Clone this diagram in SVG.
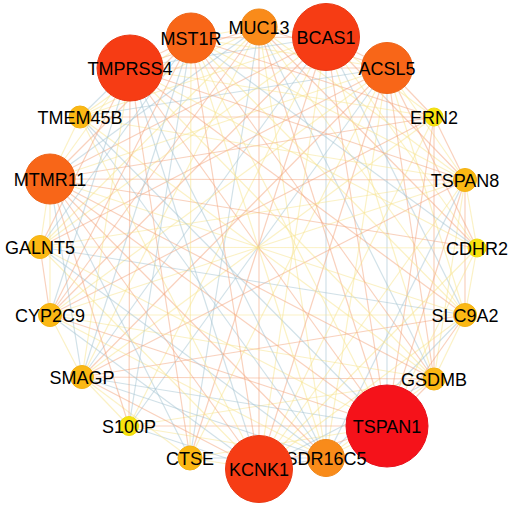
<svg xmlns="http://www.w3.org/2000/svg" width="510" height="506" viewBox="0 0 510 506">
<style>
.e line{stroke-width:1.2;fill:none}
.y{stroke:#f8e48c;stroke-opacity:0.5}
.o{stroke:#f4a47c;stroke-opacity:0.5}
.b{stroke:#a3c3d2;stroke-opacity:0.5}
.n text{font-family:"Liberation Sans",Arial,sans-serif;font-size:18px;fill:#000;text-anchor:middle}
.c1{fill:#f5121a;stroke:#e8101a}
.c2{fill:#f63c14;stroke:#ea3a14}
.c3{fill:#f86618;stroke:#ee6418}
.c4{fill:#f98b1a;stroke:#f0881a}
.c5{fill:#fbb814;stroke:#f3b214}
.c6{fill:#f7e20e;stroke:#efdb0e}
</style>
<rect width="510" height="506" fill="#fff"/>
<g id="edges" class="e">
<line class="y" x1="259" y1="27" x2="326" y2="37"/>
<line class="o" x1="259" y1="27" x2="387" y2="68"/>
<line class="y" x1="259" y1="27" x2="465" y2="180"/>
<line class="o" x1="259" y1="27" x2="477" y2="248"/>
<line class="y" x1="259" y1="27" x2="465" y2="315"/>
<line class="b" x1="259" y1="27" x2="434" y2="379"/>
<line class="o" x1="259" y1="27" x2="387" y2="426"/>
<line class="y" x1="259" y1="27" x2="326" y2="458"/>
<line class="o" x1="259" y1="27" x2="259" y2="469"/>
<line class="b" x1="259" y1="27" x2="190" y2="458"/>
<line class="y" x1="259" y1="27" x2="82" y2="377"/>
<line class="o" x1="259" y1="27" x2="50" y2="315"/>
<line class="y" x1="259" y1="27" x2="40" y2="247"/>
<line class="b" x1="259" y1="27" x2="50" y2="179"/>
<line class="y" x1="259" y1="27" x2="80" y2="117"/>
<line class="o" x1="259" y1="27" x2="130" y2="68"/>
<line class="y" x1="259" y1="27" x2="191" y2="38"/>
<line class="o" x1="326" y1="37" x2="387" y2="68"/>
<line class="y" x1="326" y1="37" x2="434" y2="117"/>
<line class="o" x1="326" y1="37" x2="465" y2="180"/>
<line class="y" x1="326" y1="37" x2="477" y2="248"/>
<line class="b" x1="326" y1="37" x2="465" y2="315"/>
<line class="y" x1="326" y1="37" x2="434" y2="379"/>
<line class="o" x1="326" y1="37" x2="387" y2="426"/>
<line class="b" x1="326" y1="37" x2="326" y2="458"/>
<line class="y" x1="326" y1="37" x2="259" y2="469"/>
<line class="o" x1="326" y1="37" x2="190" y2="458"/>
<line class="y" x1="326" y1="37" x2="129" y2="426"/>
<line class="b" x1="326" y1="37" x2="82" y2="377"/>
<line class="o" x1="326" y1="37" x2="50" y2="315"/>
<line class="y" x1="326" y1="37" x2="40" y2="247"/>
<line class="o" x1="326" y1="37" x2="50" y2="179"/>
<line class="y" x1="326" y1="37" x2="80" y2="117"/>
<line class="b" x1="326" y1="37" x2="130" y2="68"/>
<line class="o" x1="326" y1="37" x2="191" y2="38"/>
<line class="o" x1="387" y1="68" x2="434" y2="117"/>
<line class="y" x1="387" y1="68" x2="465" y2="180"/>
<line class="o" x1="387" y1="68" x2="477" y2="248"/>
<line class="y" x1="387" y1="68" x2="465" y2="315"/>
<line class="o" x1="387" y1="68" x2="434" y2="379"/>
<line class="b" x1="387" y1="68" x2="387" y2="426"/>
<line class="y" x1="387" y1="68" x2="326" y2="458"/>
<line class="o" x1="387" y1="68" x2="259" y2="469"/>
<line class="y" x1="387" y1="68" x2="190" y2="458"/>
<line class="b" x1="387" y1="68" x2="129" y2="426"/>
<line class="o" x1="387" y1="68" x2="82" y2="377"/>
<line class="y" x1="387" y1="68" x2="50" y2="315"/>
<line class="o" x1="387" y1="68" x2="40" y2="247"/>
<line class="y" x1="387" y1="68" x2="50" y2="179"/>
<line class="b" x1="387" y1="68" x2="80" y2="117"/>
<line class="o" x1="387" y1="68" x2="130" y2="68"/>
<line class="y" x1="387" y1="68" x2="191" y2="38"/>
<line class="o" x1="434" y1="117" x2="465" y2="180"/>
<line class="o" x1="434" y1="117" x2="434" y2="379"/>
<line class="o" x1="434" y1="117" x2="387" y2="426"/>
<line class="y" x1="434" y1="117" x2="259" y2="469"/>
<line class="y" x1="434" y1="117" x2="82" y2="377"/>
<line class="o" x1="434" y1="117" x2="50" y2="315"/>
<line class="o" x1="434" y1="117" x2="50" y2="179"/>
<line class="o" x1="434" y1="117" x2="80" y2="117"/>
<line class="y" x1="434" y1="117" x2="130" y2="68"/>
<line class="o" x1="434" y1="117" x2="191" y2="38"/>
<line class="y" x1="465" y1="180" x2="477" y2="248"/>
<line class="o" x1="465" y1="180" x2="465" y2="315"/>
<line class="y" x1="465" y1="180" x2="434" y2="379"/>
<line class="o" x1="465" y1="180" x2="387" y2="426"/>
<line class="b" x1="465" y1="180" x2="326" y2="458"/>
<line class="y" x1="465" y1="180" x2="259" y2="469"/>
<line class="o" x1="465" y1="180" x2="82" y2="377"/>
<line class="y" x1="465" y1="180" x2="50" y2="315"/>
<line class="y" x1="465" y1="180" x2="40" y2="247"/>
<line class="o" x1="465" y1="180" x2="50" y2="179"/>
<line class="y" x1="465" y1="180" x2="80" y2="117"/>
<line class="o" x1="465" y1="180" x2="130" y2="68"/>
<line class="y" x1="465" y1="180" x2="191" y2="38"/>
<line class="y" x1="477" y1="248" x2="465" y2="315"/>
<line class="y" x1="477" y1="248" x2="387" y2="426"/>
<line class="y" x1="477" y1="248" x2="259" y2="469"/>
<line class="y" x1="477" y1="248" x2="40" y2="247"/>
<line class="o" x1="477" y1="248" x2="50" y2="179"/>
<line class="y" x1="477" y1="248" x2="130" y2="68"/>
<line class="b" x1="477" y1="248" x2="191" y2="38"/>
<line class="y" x1="465" y1="315" x2="434" y2="379"/>
<line class="o" x1="465" y1="315" x2="387" y2="426"/>
<line class="b" x1="465" y1="315" x2="326" y2="458"/>
<line class="y" x1="465" y1="315" x2="259" y2="469"/>
<line class="o" x1="465" y1="315" x2="82" y2="377"/>
<line class="y" x1="465" y1="315" x2="50" y2="315"/>
<line class="b" x1="465" y1="315" x2="40" y2="247"/>
<line class="y" x1="465" y1="315" x2="50" y2="179"/>
<line class="o" x1="465" y1="315" x2="130" y2="68"/>
<line class="y" x1="465" y1="315" x2="191" y2="38"/>
<line class="o" x1="434" y1="379" x2="387" y2="426"/>
<line class="y" x1="434" y1="379" x2="326" y2="458"/>
<line class="b" x1="434" y1="379" x2="259" y2="469"/>
<line class="y" x1="434" y1="379" x2="129" y2="426"/>
<line class="o" x1="434" y1="379" x2="82" y2="377"/>
<line class="y" x1="434" y1="379" x2="50" y2="315"/>
<line class="o" x1="434" y1="379" x2="50" y2="179"/>
<line class="y" x1="434" y1="379" x2="80" y2="117"/>
<line class="y" x1="434" y1="379" x2="130" y2="68"/>
<line class="o" x1="434" y1="379" x2="191" y2="38"/>
<line class="y" x1="387" y1="426" x2="326" y2="458"/>
<line class="o" x1="387" y1="426" x2="259" y2="469"/>
<line class="y" x1="387" y1="426" x2="190" y2="458"/>
<line class="o" x1="387" y1="426" x2="129" y2="426"/>
<line class="b" x1="387" y1="426" x2="82" y2="377"/>
<line class="o" x1="387" y1="426" x2="50" y2="315"/>
<line class="y" x1="387" y1="426" x2="40" y2="247"/>
<line class="o" x1="387" y1="426" x2="50" y2="179"/>
<line class="b" x1="387" y1="426" x2="80" y2="117"/>
<line class="o" x1="387" y1="426" x2="130" y2="68"/>
<line class="y" x1="387" y1="426" x2="191" y2="38"/>
<line class="b" x1="326" y1="458" x2="259" y2="469"/>
<line class="b" x1="326" y1="458" x2="190" y2="458"/>
<line class="y" x1="326" y1="458" x2="129" y2="426"/>
<line class="b" x1="326" y1="458" x2="82" y2="377"/>
<line class="y" x1="326" y1="458" x2="50" y2="315"/>
<line class="b" x1="326" y1="458" x2="40" y2="247"/>
<line class="o" x1="326" y1="458" x2="50" y2="179"/>
<line class="b" x1="326" y1="458" x2="80" y2="117"/>
<line class="b" x1="326" y1="458" x2="130" y2="68"/>
<line class="y" x1="326" y1="458" x2="191" y2="38"/>
<line class="y" x1="259" y1="469" x2="190" y2="458"/>
<line class="b" x1="259" y1="469" x2="129" y2="426"/>
<line class="o" x1="259" y1="469" x2="82" y2="377"/>
<line class="b" x1="259" y1="469" x2="50" y2="315"/>
<line class="y" x1="259" y1="469" x2="40" y2="247"/>
<line class="o" x1="259" y1="469" x2="50" y2="179"/>
<line class="y" x1="259" y1="469" x2="80" y2="117"/>
<line class="b" x1="259" y1="469" x2="130" y2="68"/>
<line class="o" x1="259" y1="469" x2="191" y2="38"/>
<line class="y" x1="190" y1="458" x2="82" y2="377"/>
<line class="b" x1="190" y1="458" x2="50" y2="179"/>
<line class="o" x1="190" y1="458" x2="130" y2="68"/>
<line class="y" x1="190" y1="458" x2="191" y2="38"/>
<line class="y" x1="129" y1="426" x2="82" y2="377"/>
<line class="o" x1="129" y1="426" x2="50" y2="179"/>
<line class="o" x1="129" y1="426" x2="130" y2="68"/>
<line class="b" x1="129" y1="426" x2="191" y2="38"/>
<line class="y" x1="82" y1="377" x2="50" y2="315"/>
<line class="b" x1="82" y1="377" x2="50" y2="179"/>
<line class="y" x1="82" y1="377" x2="130" y2="68"/>
<line class="b" x1="82" y1="377" x2="191" y2="38"/>
<line class="o" x1="50" y1="315" x2="40" y2="247"/>
<line class="y" x1="50" y1="315" x2="50" y2="179"/>
<line class="b" x1="50" y1="315" x2="130" y2="68"/>
<line class="o" x1="50" y1="315" x2="191" y2="38"/>
<line class="y" x1="40" y1="247" x2="50" y2="179"/>
<line class="o" x1="40" y1="247" x2="130" y2="68"/>
<line class="b" x1="40" y1="247" x2="191" y2="38"/>
<line class="y" x1="50" y1="179" x2="80" y2="117"/>
<line class="y" x1="50" y1="179" x2="130" y2="68"/>
<line class="o" x1="50" y1="179" x2="191" y2="38"/>
<line class="b" x1="80" y1="117" x2="130" y2="68"/>
<line class="y" x1="80" y1="117" x2="191" y2="38"/>
<line class="o" x1="130" y1="68" x2="191" y2="38"/>
</g>
<g id="MUC13" class="n"><circle class="c4" cx="259" cy="27" r="18"/><text x="259" y="33.5">MUC13</text></g>
<g id="BCAS1" class="n"><circle class="c2" cx="326" cy="37" r="33.5"/><text x="326" y="43.5">BCAS1</text></g>
<g id="ACSL5" class="n"><circle class="c3" cx="387" cy="68" r="25.5"/><text x="387" y="74.5">ACSL5</text></g>
<g id="ERN2" class="n"><circle class="c6" cx="434" cy="117" r="9"/><text x="434" y="123.5">ERN2</text></g>
<g id="TSPAN8" class="n"><circle class="c5" cx="465" cy="180" r="11.5"/><text x="465" y="186.5">TSPAN8</text></g>
<g id="CDHR2" class="n"><circle class="c6" cx="477" cy="248" r="9"/><text x="477" y="254.5">CDHR2</text></g>
<g id="SLC9A2" class="n"><circle class="c5" cx="465" cy="315" r="11.5"/><text x="465" y="321.5">SLC9A2</text></g>
<g id="GSDMB" class="n"><circle class="c5" cx="434" cy="379" r="11"/><text x="434" y="385.5">GSDMB</text></g>
<g id="TSPAN1" class="n"><circle class="c1" cx="387" cy="426" r="41"/><text x="387" y="432.5">TSPAN1</text></g>
<g id="SDR16C5" class="n"><circle class="c4" cx="326" cy="458" r="18.5"/><text x="326" y="464.5">SDR16C5</text></g>
<g id="KCNK1" class="n"><circle class="c2" cx="259" cy="469" r="33.5"/><text x="259" y="475.5">KCNK1</text></g>
<g id="CTSE" class="n"><circle class="c5" cx="190" cy="458" r="12"/><text x="190" y="464.5">CTSE</text></g>
<g id="S100P" class="n"><circle class="c6" cx="129" cy="426" r="9.5"/><text x="129" y="432.5">S100P</text></g>
<g id="SMAGP" class="n"><circle class="c5" cx="82" cy="377" r="11.5"/><text x="82" y="383.5">SMAGP</text></g>
<g id="CYP2C9" class="n"><circle class="c5" cx="50" cy="315" r="11.5"/><text x="50" y="321.5">CYP2C9</text></g>
<g id="GALNT5" class="n"><circle class="c5" cx="40" cy="247" r="11.5"/><text x="40" y="253.5">GALNT5</text></g>
<g id="MTMR11" class="n"><circle class="c3" cx="50" cy="179" r="25"/><text x="50" y="185.5">MTMR11</text></g>
<g id="TMEM45B" class="n"><circle class="c5" cx="80" cy="117" r="11"/><text x="80" y="123.5">TMEM45B</text></g>
<g id="TMPRSS4" class="n"><circle class="c2" cx="130" cy="68" r="33"/><text x="130" y="74.5">TMPRSS4</text></g>
<g id="MST1R" class="n"><circle class="c3" cx="191" cy="38" r="25"/><text x="191" y="44.5">MST1R</text></g>
</svg>
